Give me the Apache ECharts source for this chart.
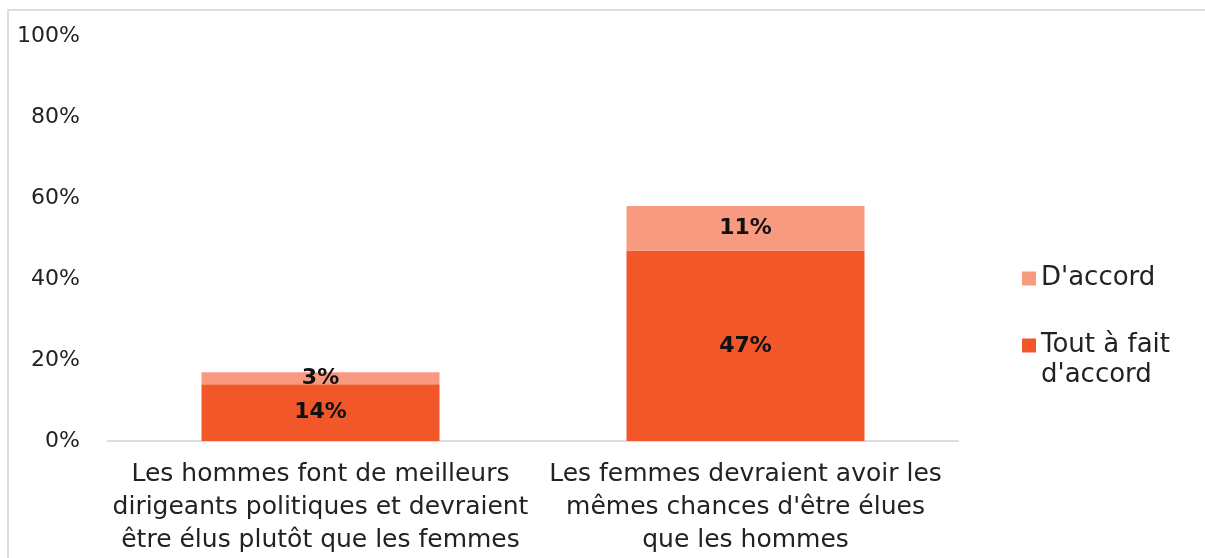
<!DOCTYPE html>
<html>
<head>
<meta charset="utf-8">
<script src="https://cdn.jsdelivr.net/npm/echarts@6/dist/echarts.min.js"></script>
<style>
  html, body { margin: 0; padding: 0; background: #fff; }
  #frame { position: absolute; left: 7px; top: 9px; width: 1210px; height: 560px;
           border-left: 2px solid #dedede; border-top: 2px solid #dedede; }
  #chart { position: absolute; left: 0; top: 0; width: 1205px; height: 558px; }
</style>
</head>
<body>
<div id="frame"></div>
<div id="chart"></div>
<script>
  const categories = [
    "Les hommes font de meilleurs\ndirigeants politiques et devraient\nêtre élus plutôt que les femmes",
    "Les femmes devraient avoir les\nmêmes chances d'être élues\nque les hommes"
  ];
  const toutAFait = [14, 47];
  const dAccord = [3, 11];
  const yTicks = [0, 20, 40, 60, 80, 100];

  const font = "DejaVu Sans";
  const legendText = { fontFamily: font, fontSize: 26, color: "#222", lineHeight: 33 };
  const myChart = echarts.init(document.getElementById("chart"));

  const barLabel = {
    show: true,
    position: "inside",
    formatter: "{c}%",
    fontSize: 22,
    fontWeight: "bold",
    color: "#111",
    fontFamily: font
  };

  myChart.setOption({
    animation: false,
    textStyle: { fontFamily: font },
    grid: { left: 108, right: 247, top: 36, bottom: 117, containLabel: false },
    legend: [
      {
        orient: "vertical",
        left: 1017,
        top: 257,
        itemWidth: 14,
        itemHeight: 14,
        icon: "rect",
        selectedMode: false,
        textStyle: legendText,
        data: ["D'accord"]
      },
      {
        orient: "vertical",
        left: 1017,
        top: 324,
        itemWidth: 14,
        itemHeight: 14,
        icon: "rect",
        selectedMode: false,
        textStyle: legendText,
        data: ["Tout à fait d'accord"],
        formatter: function () { return "Tout à fait"; }
      }
    ],
    graphic: [
      {
        type: "text",
        left: 1041,
        top: 362,
        style: { text: "d'accord", fontFamily: font, fontSize: 26, fill: "#222" }
      }
    ],
    xAxis: {
      type: "category",
      data: categories,
      axisLine: { lineStyle: { color: "#dcdcdc", width: 2 } },
      axisTick: { show: false },
      axisLabel: {
        interval: 0,
        margin: 17,
        fontSize: 25,
        lineHeight: 33,
        color: "#222",
        fontFamily: font
      }
    },
    yAxis: {
      type: "value",
      min: 0,
      max: 100,
      interval: 20,
      axisLine: { show: false },
      axisTick: { show: false },
      splitLine: { show: false },
      axisLabel: {
        margin: 28,
        fontSize: 22,
        color: "#222",
        fontFamily: font,
        formatter: function (v) { return yTicks.indexOf(v) >= 0 ? v + "%" : ""; }
      }
    },
    series: [
      {
        name: "Tout à fait d'accord",
        type: "bar",
        stack: "total",
        data: toutAFait,
        barWidth: "56%",
        itemStyle: { color: "#F2572A" },
        label: barLabel
      },
      {
        name: "D'accord",
        type: "bar",
        stack: "total",
        data: dAccord,
        barWidth: "56%",
        itemStyle: { color: "#F79A80" },
        label: barLabel
      }
    ]
  });
</script>
</body>
</html>
